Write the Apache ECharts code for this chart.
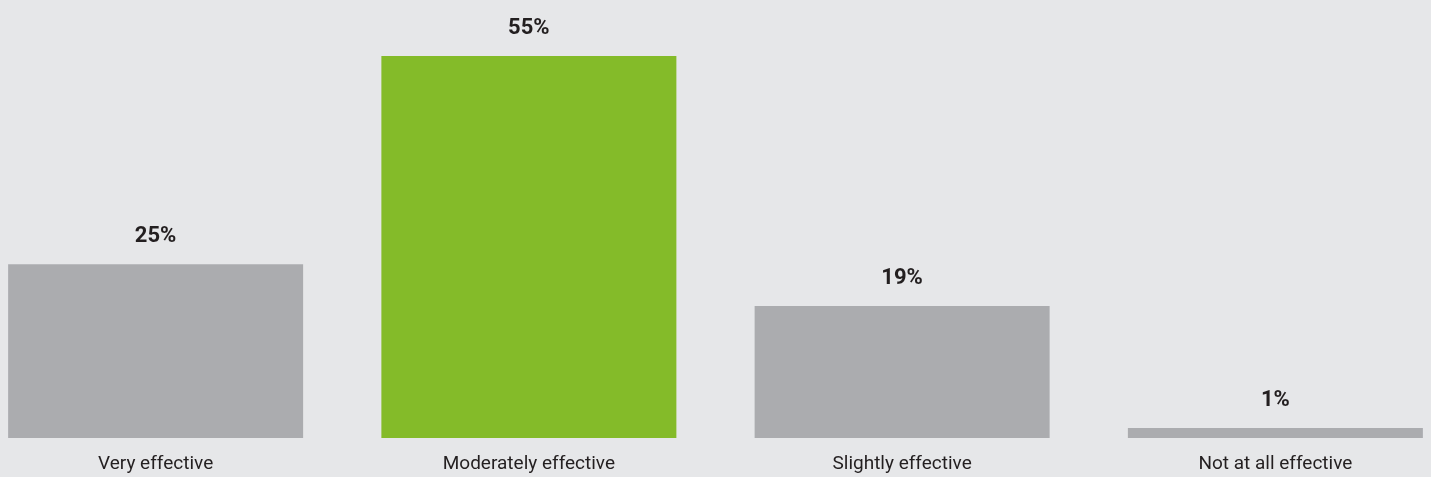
<!DOCTYPE html>
<html>
<head>
<meta charset="utf-8">
<script src="https://cdn.jsdelivr.net/npm/echarts@6/dist/echarts.min.js"></script>
<style>
  html, body { margin: 0; padding: 0; background: #e6e7e9; overflow: hidden; }
  /* plot area is a little wider than the page so the outer bars sit near the edges */
  #chart { width: 1493px; height: 477px; margin-left: -31px; }
</style>
</head>
<body>
<div id="chart"></div>
<script>
// Survey responses: how effective is it?
const categories = ['Very effective', 'Moderately effective', 'Slightly effective', 'Not at all effective'];
const shares = [25, 55, 19, 1];
const highlightIndex = 1;

const grey = '#abacaf';
const green = '#84bb29';

const chart = echarts.init(document.getElementById('chart'));
chart.setOption({
  backgroundColor: '#e6e7e9',
  animation: false,
  grid: { left: 0, right: 0, top: 56, bottom: 39, containLabel: false },
  xAxis: {
    type: 'category',
    data: categories,
    axisLine: { show: false },
    axisTick: { show: false },
    axisLabel: {
      margin: 17,
      color: '#231f20',
      fontSize: 19,
      fontFamily: 'Roboto, sans-serif'
    }
  },
  yAxis: {
    type: 'value',
    min: 0,
    max: 55,
    show: false,
    splitLine: { show: false }
  },
  series: [{
    type: 'bar',
    barWidth: 295,
    barMinHeight: 10,
    data: shares.map((v, i) => ({
      value: v,
      itemStyle: { color: i === highlightIndex ? green : grey }
    })),
    label: {
      show: true,
      position: 'top',
      distance: 17,
      formatter: p => p.value + '%',
      color: '#231f20',
      fontSize: 22,
      fontWeight: 'bold',
      fontFamily: 'Roboto, sans-serif'
    }
  }]
});
</script>
</body>
</html>
